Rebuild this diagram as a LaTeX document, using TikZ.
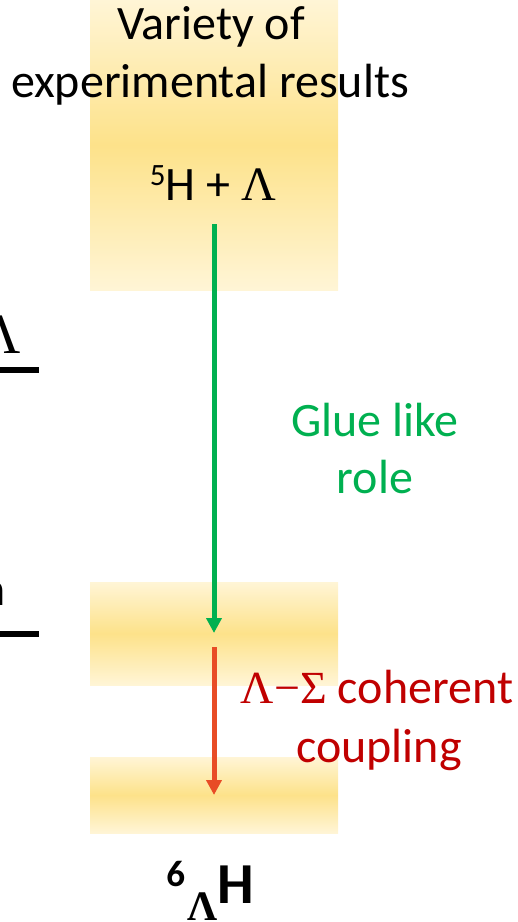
\documentclass[tikz,border=0pt]{standalone}
\usepackage{fontspec}
\setmainfont{Carlito}
\newfontfamily\grkfont{Liberation Serif}
\usetikzlibrary{arrows.meta,positioning}
\definecolor{bandlight}{HTML}{FFF5D6}
\definecolor{banddeep}{HTML}{FDE28A}
\definecolor{gluegreen}{HTML}{00B050}
\definecolor{couparrow}{HTML}{E84C26}
\definecolor{coupred}{HTML}{C00000}
\tikzset{
  band/.style={top color=bandlight,bottom color=bandlight,middle color=banddeep},
  lbl/.style={font=\fontsize{48}{58}\selectfont,align=center,inner sep=0pt},
  levelline/.style={line width=6pt},
  trans/.style={line width=5pt,-{Triangle[length=15pt,width=15pt]}}
}
\newcommand{\Lam}{{\grkfont Λ}}
\begin{document}
\begin{tikzpicture}[x=1pt,y=-1pt]
  \useasboundingbox (0,0) rectangle (518,922);
  \clip (0,0) rectangle (518,922);
  % yellow bands
  \shade[band] (90,0) rectangle (338,290);
  \shade[band] (90,582) rectangle (338,685);
  \shade[band] (90,757) rectangle (338,833);
  % levels cut off at the left edge
  \node[lbl,font=\grkfont\fontsize{57}{57}\selectfont,anchor=base east]
    (lamleft) at (21,353) {Λ};
  \draw[levelline] (-10,370) -- (39,370);
  \node[lbl,anchor=base east] (nleft) at (6,605) {n};
  \draw[levelline] (-10,634) -- (39,634);
  % texts
  \node[lbl,anchor=base] (variety) at (211,39) {Variety of};
  \node[lbl,anchor=base] (results) at (210,97) {experimental results};
  \node[lbl,anchor=base] (threshold) at (213,200)
    {\raisebox{15pt}{\fontsize{31}{31}\selectfont 5}H + \Lam};
  \node[lbl,anchor=base,text=gluegreen] (glue) at (375,436) {Glue like};
  \node[lbl,anchor=base,text=gluegreen] (role) at (375,493) {role};
  \node[lbl,anchor=base,text=coupred] (coherent) at (377,703)
    {{\grkfont\fontsize{46}{46}\selectfont Λ−Σ} coherent};
  \node[lbl,anchor=base,text=coupred] (coupling) at (379,762) {coupling};
  \node[lbl,anchor=base,font=\bfseries\fontsize{58}{58}\selectfont]
    (hyper) at (210,903)
    {{\fontsize{37}{37}\selectfont\raisebox{17pt}{6}}\hspace{2pt}%
     {\grkfont\bfseries\fontsize{42}{42}\selectfont\raisebox{-17pt}{Λ}}H};
  % transitions
  \coordinate (gtop) at (214,224);
  \coordinate (gbot) at (214,633);
  \coordinate (rtop) at (214,647);
  \coordinate (rbot) at (214,795);
  \draw[trans,gluegreen] (gtop) -- (gbot);
  \draw[trans,couparrow] (rtop) -- (rbot);
\end{tikzpicture}
\end{document}
